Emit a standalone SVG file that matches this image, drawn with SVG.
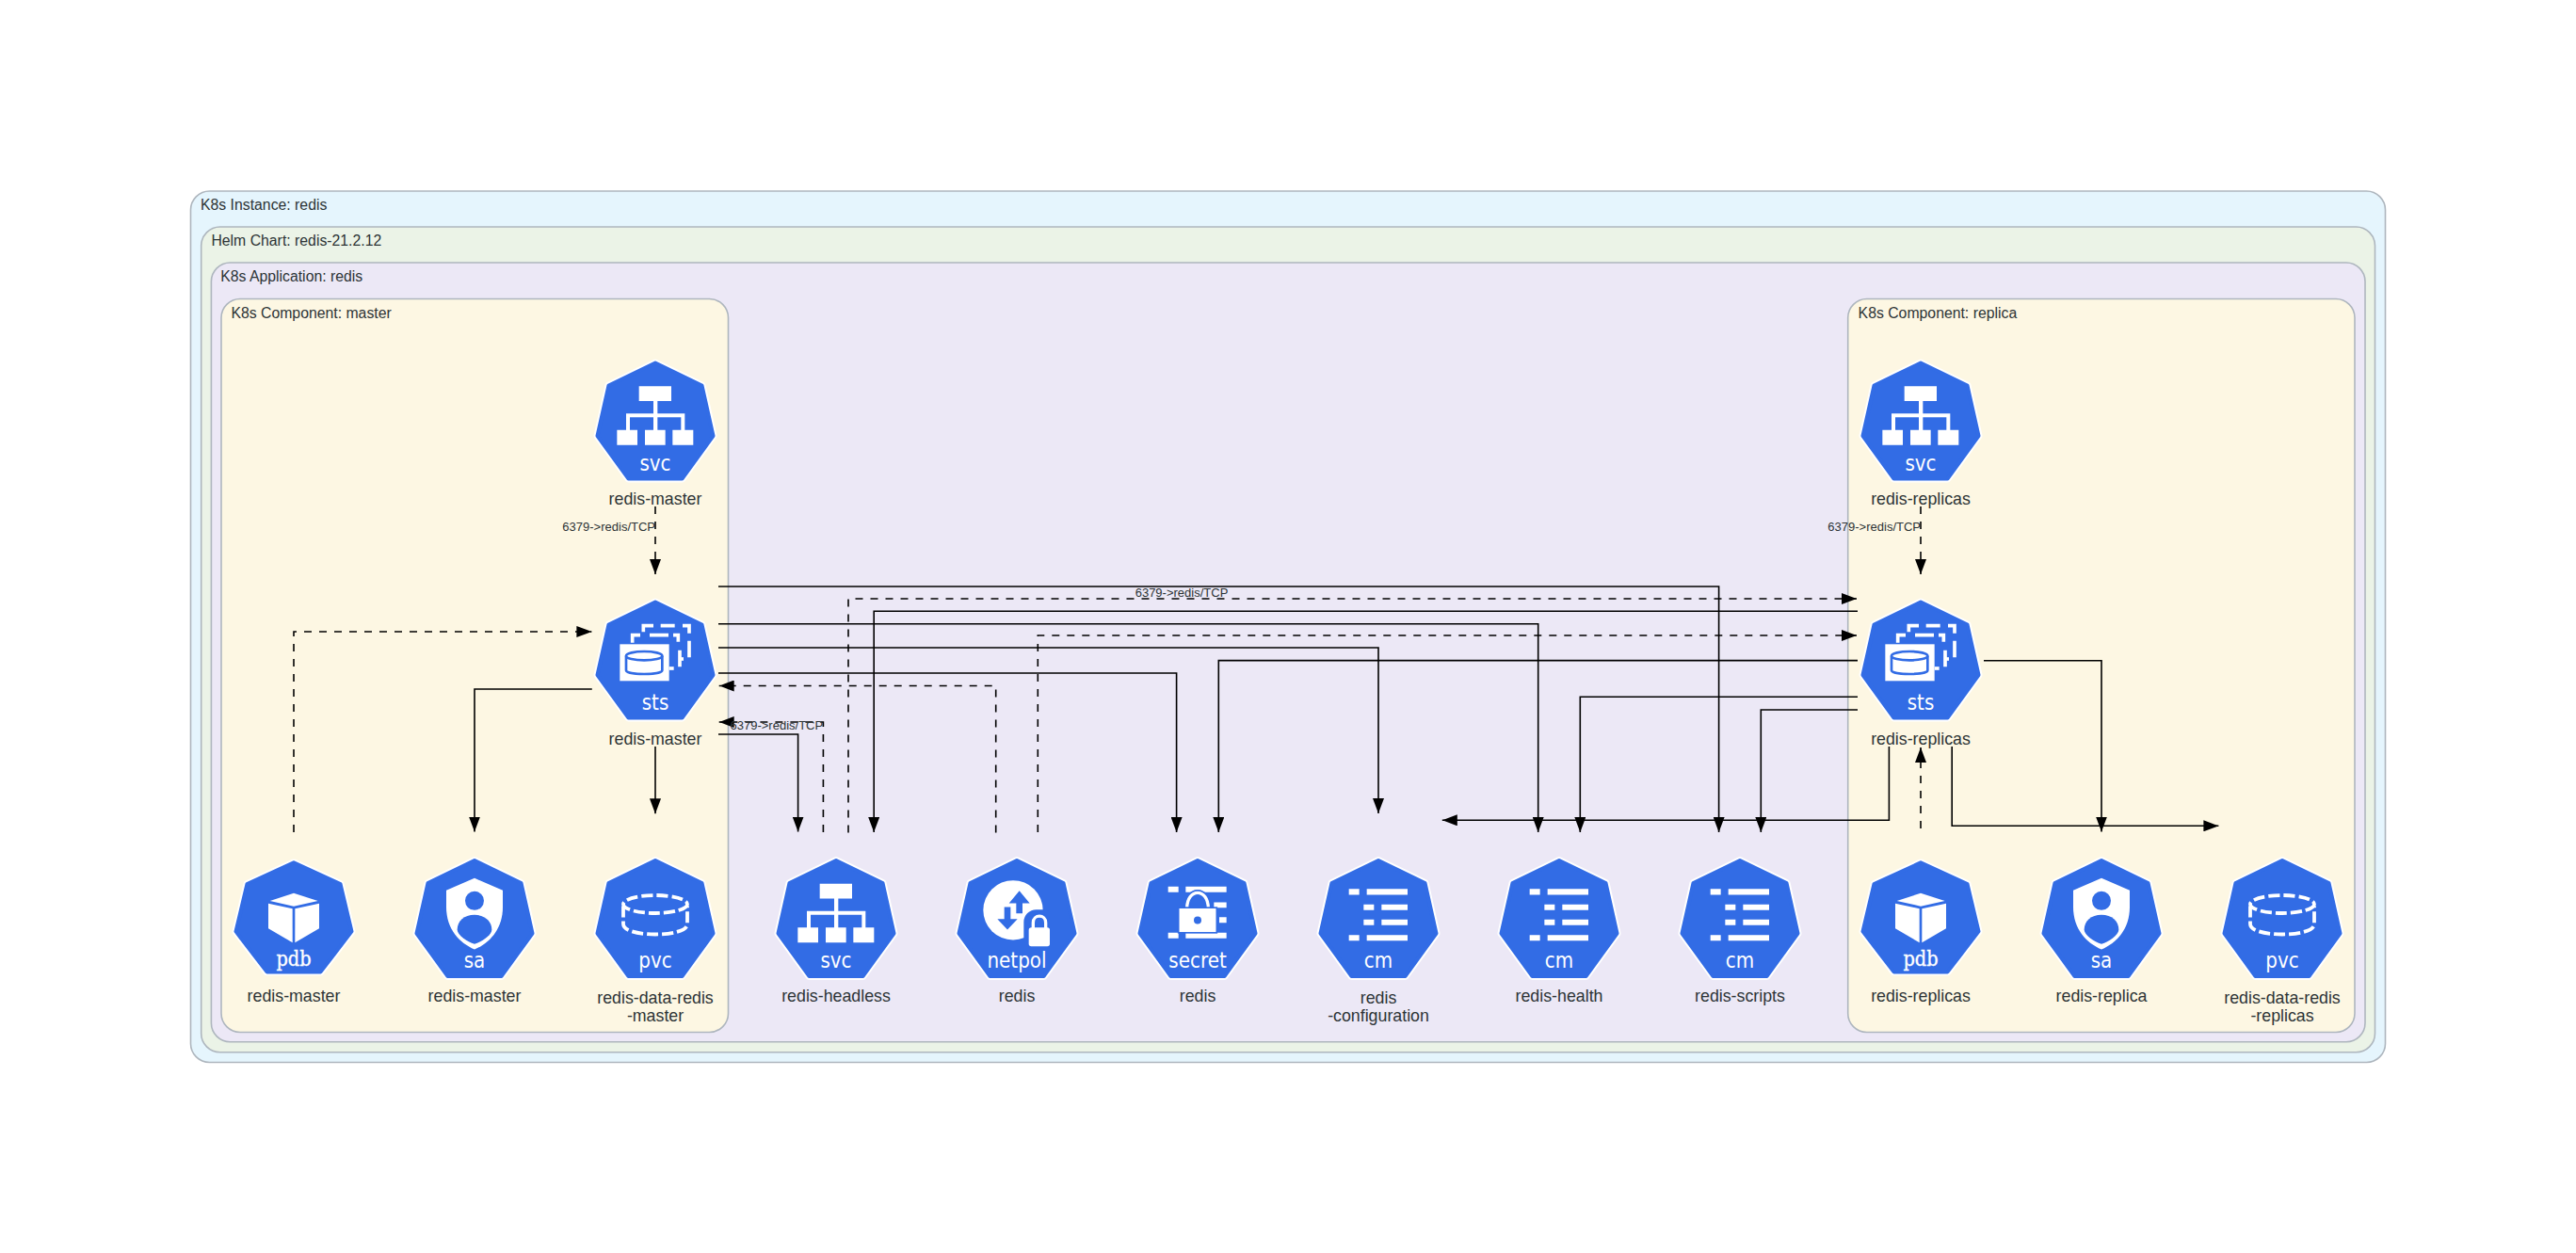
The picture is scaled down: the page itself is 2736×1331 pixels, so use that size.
<svg xmlns="http://www.w3.org/2000/svg" width="2736" height="1331" viewBox="0 0 2736 1331">
<style>
.c{stroke:#AEB6BE;stroke-width:1.6}
.ct{font:15.8px "Liberation Sans",Arial,sans-serif;fill:#2D3436}
.lb{font:17.8px "Liberation Sans",Arial,sans-serif;fill:#2D3436;text-anchor:middle}
.el{font:13px "Liberation Sans",Arial,sans-serif;fill:#2D3436}
.ic{font:22.4px "DejaVu Sans",sans-serif;fill:#fff;text-anchor:middle;transform:scaleX(.89)}
.ics{font:22px "DejaVu Serif",serif;fill:#fff;stroke:#fff;stroke-width:.35;text-anchor:middle;transform:scaleX(.88)}
.e{fill:none;stroke:#000;stroke-width:1.6;marker-end:url(#a)}
.d{stroke-dasharray:8 8}
.w{fill:#fff}
.b{fill:#326CE5}
.ws{fill:none;stroke:#fff;stroke-linejoin:miter}
</style>
<defs>
<marker id="a" markerUnits="userSpaceOnUse" markerWidth="16" markerHeight="12" refX="16" refY="6" orient="auto"><path d="M0 0L16 6L0 12Z" fill="#000"/></marker>
<g id="hept">
<polygon points="0,4.5 49.5,28.5 61.5,82 28.5,127.5 -28.5,127.5 -61.5,82 -49.5,28.5" fill="#fff" stroke="#fff" stroke-width="8" stroke-linejoin="round"/>
<polygon points="0,4.5 49.5,28.5 61.5,82 28.5,127.5 -28.5,127.5 -61.5,82 -49.5,28.5" fill="#326CE5" stroke="#326CE5" stroke-width="4" stroke-linejoin="round"/>
</g>
<g id="g-svc" transform="scale(.3333) translate(-228 -35)">
<path class="w" d="M176 123H279V170H235V210H322V262H349V310H283V262H310V222H235V262H260V310H195V262H222V222H147V262H171V310H106V262H135V210H222V170H176Z"/>
</g>
<g id="g-sts" transform="scale(.3333) translate(-228 -15)">
<g class="ws" stroke-width="11">
<path d="M190 124V104H222M245 104H290M315 104H336V128M336 152V205"/>
<path d="M318 210H305"/>
<path d="M155 158V134H180M210 134H270M285 134H301V155M306 182V235"/>
<path d="M272 240H287"/>
</g>
<rect class="w" x="115" y="163" width="157" height="117"/>
<path d="M135 200V246C135 262 250 262 250 246V200" fill="#fff" stroke="#326CE5" stroke-width="8"/>
<ellipse cx="192.500" cy="200" rx="57.500" ry="14" fill="#fff" stroke="#326CE5" stroke-width="8"/>
</g>
<g id="g-pvc" fill="none" stroke="#fff" stroke-width="3.800">
<ellipse cx="0" cy="51" rx="34" ry="9.500" stroke-dasharray="12 4"/>
<path d="M-34 53V72C-34 80 -15 83 0 83C15 83 34 80 34 72V53" stroke-dasharray="12 4"/>
</g>
<g id="g-sa" transform="scale(.3333) translate(-792 -28)">
<path class="w" d="M792 98L882 137V190C882 260 840 305 792 325C744 305 702 260 702 190V137Z"/>
<circle class="b" cx="792" cy="170" r="30"/>
<path class="b" d="M792 215C825 215 847 235 847 262C847 280 815 300 792 308C769 300 737 280 737 262C737 235 759 215 792 215Z"/>
</g>
<g id="g-pdb" transform="scale(.3333) translate(-216 -35)">
<path class="w" d="M216 145L293 170L216 187L140 170Z"/>
<path class="w" d="M135 178L212 195V303L135 258Z"/>
<path class="w" d="M297 178L220 195V303L297 258Z"/>
</g>
<g id="g-cm" transform="scale(.3333) translate(-222 -28)">
<path class="w" d="M128 132H161V151H128ZM185 132H315V151H185ZM175 182H208V200H175ZM232 182H315V200H232ZM175 230H208V248H175ZM232 230H315V248H232ZM128 279H161V297H128ZM185 279H315V297H185Z"/>
</g>
<g id="g-secret" transform="scale(.3333) translate(-816 -28)">
<path class="w" d="M722 125H755V143H722ZM778 125H908V143H778ZM868 175H908V192H868ZM885 222H908V240H885ZM722 272H755V290H722ZM778 272H908V290H778Z"/>
<path d="M782 195C782 128 850 128 850 195" fill="none" stroke="#326CE5" stroke-width="20"/>
<path d="M782 195C782 128 850 128 850 195" fill="none" stroke="#fff" stroke-width="10"/>
<rect class="w" x="755" y="192" width="122" height="80" stroke="#326CE5" stroke-width="5"/>
<circle class="b" cx="816" cy="232" r="12"/>
</g>
<g id="g-netpol" transform="scale(.3333) translate(-240 -28)">
<circle class="w" cx="228" cy="200" r="95"/>
<path class="b" d="M248 138L281 178H258V210H238V178H215Z"/>
<path class="b" d="M200 190H220V228H242L210 262L178 228H200Z"/>
<rect class="b" x="262" y="198" width="100" height="130" rx="40"/>
<path d="M292 258V240C292 212 332 212 332 240V258" fill="none" stroke="#fff" stroke-width="10"/>
<rect class="w" x="278" y="255" width="67" height="60" rx="8"/>
</g>
</defs>
<rect width="2736" height="1331" fill="#fff"/>
<g id="clusters">
<rect class="c" x="202.500" y="203" width="2331" height="925.500" rx="20" fill="#E5F5FD"/>
<text class="ct" x="213" y="223">K8s Instance: redis</text>
<rect class="c" x="213.700" y="241" width="2308.800" height="876.700" rx="20" fill="#EBF3E7"/>
<text class="ct" x="224.400" y="261">Helm Chart: redis-21.2.12</text>
<rect class="c" x="224.400" y="279" width="2287.600" height="827.700" rx="20" fill="#ECE8F6"/>
<text class="ct" x="234.200" y="298.700">K8s Application: redis</text>
<rect class="c" x="235" y="317.500" width="538.500" height="779" rx="20" fill="#FDF7E3"/>
<text class="ct" x="245.400" y="338">K8s Component: master</text>
<rect class="c" x="1962.700" y="317.500" width="538.300" height="779" rx="20" fill="#FDF7E3"/>
<text class="ct" x="1973.600" y="338">K8s Component: replica</text>
</g>
<g id="connectors">
<path class="e d" d="M696 538V610"/>
<path class="e d" d="M2040 538V610"/>
<path class="e" d="M763 623H1825.600V884"/>
<path class="e d" d="M901 884.500V636H1972"/>
<path class="e" d="M1973 649.300H928.200V884"/>
<path class="e" d="M763 662.700H1633.700V884"/>
<path class="e d" d="M1102.300 884V675H1972"/>
<path class="e" d="M763 688H1464V864"/>
<path class="e" d="M1973 701.600H1294.300V884"/>
<path class="e" d="M763 715H1249.600V884"/>
<path class="e d" d="M1057.700 884.500V728.500H763.700"/>
<path class="e" d="M1973 740.200H1678.300V884"/>
<path class="e" d="M1973 754H1870.300V884"/>
<path class="e" d="M628.800 732H504V883.500"/>
<path class="e" d="M696 793V864.300"/>
<path class="e" d="M763 780H847.600V883.500"/>
<path class="e d" d="M874.400 884V767H763.700"/>
<path class="e d" d="M312 884V671H628.400"/>
<path class="e" d="M2107 701.700H2232V883.500"/>
<path class="e" d="M2073.200 793V877.300H2356.400"/>
<path class="e" d="M2006.400 793V871.300H1531.800"/>
<path class="e d" d="M2040 880V794"/>
<text class="el" x="696" y="564" text-anchor="end">6379-&gt;redis/TCP</text>
<text class="el" x="2040" y="564" text-anchor="end">6379-&gt;redis/TCP</text>
<text class="el" x="1255" y="634" text-anchor="middle">6379-&gt;redis/TCP</text>
<text class="el" x="775.500" y="774.700">6379-&gt;redis/TCP</text>
</g>
<g id="n-svc-master" transform="translate(696 381)"><use href="#hept"/><use href="#g-svc"/><text class="ic" y="119.500">svc</text><text class="lb" y="155">redis-master</text></g>
<g id="n-sts-master" transform="translate(696 635)"><use href="#hept"/><use href="#g-sts"/><text class="ic" y="119.500">sts</text><text class="lb" y="156">redis-master</text></g>
<g id="n-pdb-master" transform="translate(312 912)"><use href="#hept" transform="scale(1 .945)"/><use href="#g-pdb"/><text class="ics" y="114">pdb</text><text class="lb" y="152">redis-master</text></g>
<g id="n-sa-master" transform="translate(504 909.500)"><use href="#hept"/><use href="#g-sa"/><text class="ic" y="119">sa</text><text class="lb" y="154.500">redis-master</text></g>
<g id="n-pvc-master" transform="translate(696 909.500)"><use href="#hept"/><use href="#g-pvc"/><text class="ic" y="119">pvc</text><text class="lb" y="156.500">redis-data-redis<tspan x="0" dy="18.500">-master</tspan></text></g>
<g id="n-svc-headless" transform="translate(888 909.500)"><use href="#hept"/><use href="#g-svc"/><text class="ic" y="119">svc</text><text class="lb" y="154.500">redis-headless</text></g>
<g id="n-netpol" transform="translate(1080 909.500)"><use href="#hept"/><use href="#g-netpol"/><text class="ic" y="118.500">netpol</text><text class="lb" y="154.500">redis</text></g>
<g id="n-secret" transform="translate(1272 909.500)"><use href="#hept"/><use href="#g-secret"/><text class="ic" y="118.500">secret</text><text class="lb" y="154.500">redis</text></g>
<g id="n-cm-configuration" transform="translate(1464 909.500)"><use href="#hept"/><use href="#g-cm"/><text class="ic" y="118.500">cm</text><text class="lb" y="156.500">redis<tspan x="0" dy="18.500">-configuration</tspan></text></g>
<g id="n-cm-health" transform="translate(1656 909.500)"><use href="#hept"/><use href="#g-cm"/><text class="ic" y="118.500">cm</text><text class="lb" y="154.500">redis-health</text></g>
<g id="n-cm-scripts" transform="translate(1848 909.500)"><use href="#hept"/><use href="#g-cm"/><text class="ic" y="118.500">cm</text><text class="lb" y="154.500">redis-scripts</text></g>
<g id="n-svc-replicas" transform="translate(2040 381)"><use href="#hept"/><use href="#g-svc"/><text class="ic" y="119.500">svc</text><text class="lb" y="155">redis-replicas</text></g>
<g id="n-sts-replicas" transform="translate(2040 635)"><use href="#hept"/><use href="#g-sts"/><text class="ic" y="119.500">sts</text><text class="lb" y="156">redis-replicas</text></g>
<g id="n-pdb-replicas" transform="translate(2040 912)"><use href="#hept" transform="scale(1 .945)"/><use href="#g-pdb"/><text class="ics" y="114">pdb</text><text class="lb" y="152">redis-replicas</text></g>
<g id="n-sa-replica" transform="translate(2232 909.500)"><use href="#hept"/><use href="#g-sa"/><text class="ic" y="119">sa</text><text class="lb" y="154.500">redis-replica</text></g>
<g id="n-pvc-replicas" transform="translate(2424 909.500)"><use href="#hept"/><use href="#g-pvc"/><text class="ic" y="119">pvc</text><text class="lb" y="156.500">redis-data-redis<tspan x="0" dy="18.500">-replicas</tspan></text></g>
</svg>
